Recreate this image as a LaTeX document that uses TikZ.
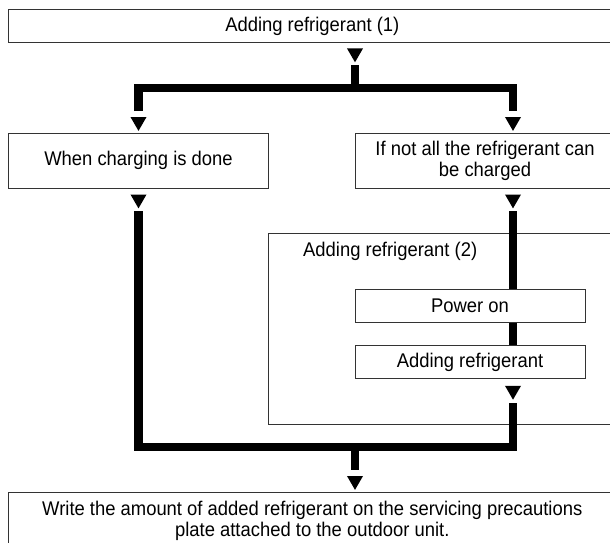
\documentclass[tikz,border=0pt]{standalone}
\usepackage{fontspec}
\setmainfont[FakeStretch=0.93]{Liberation Sans}
\usepackage{tikz}
\usetikzlibrary{shapes.geometric}

\begin{document}
\begin{tikzpicture}[x=1pt, y=-1pt,
  box/.style={rectangle, draw=black!80, line width=0.9pt, inner sep=0pt, align=center, font=\fontsize{19.8}{21}\selectfont},
  tri/.style={regular polygon, regular polygon sides=3, shape border rotate=180, fill=black, draw=none, minimum size=18.5pt, inner sep=0pt, outer sep=0pt, anchor=north},
  flow/.style={line width=8.5pt, line cap=butt, line join=miter}]
\useasboundingbox (0,0) rectangle (610,542);
\clip (0,0) rectangle (610,542);
% boxes
\node[box, minimum width=608pt, minimum height=32.5pt] (add1) at (312.3,26) {Adding refrigerant (1)};
\node[box, minimum width=260pt, minimum height=55.6pt] (done) at (138.5,160.8) {When charging is done};
\node[box, minimum width=260pt, minimum height=55.6pt] (notall) at (485,160.8) {If not all the refrigerant can\\be charged};
\node[box, minimum width=346.5pt, minimum height=191.1pt] (add2) at (441.8,329) {};
\node[anchor=west, inner sep=0pt, font=\fontsize{19.8}{21}\selectfont] (add2lbl) at (303,251) {Adding refrigerant (2)};
\node[box, minimum width=230pt, minimum height=33.2pt, fill=white] (power) at (470,306.2) {Power on};
\node[box, minimum width=230pt, minimum height=33.6pt, fill=white] (charge) at (470,362.1) {Adding refrigerant};
\node[box, minimum width=608pt, minimum height=58pt] (note) at (312.3,521) {Write the amount of added refrigerant on the servicing precautions\\plate attached to the outdoor unit.};
% arrow heads
\node[tri] (t0) at (355,48.4) {};
\node[tri] (tL) at (138.5,117) {};
\node[tri] (tR) at (513,117) {};
\node[tri] (tA) at (138.5,194.5) {};
\node[tri] (tB) at (513,194.5) {};
\node[tri] (tC) at (513,385.8) {};
\node[tri] (tD) at (355,476) {};
\coordinate (split) at (355,88);
\coordinate (merge) at (355,447);
% flow lines
\draw[flow, shorten <=3pt] (t0.south) -- (split);
\draw[flow, shorten <=6pt, shorten >=6pt] (tL.north) |- (split) -| (tR.north);
\draw[flow, shorten <=3pt] (tB.south) -- (tB.south |- power.north);
\draw[flow] (power.south -| tB.south) -- (charge.north -| tB.south);
\draw[flow, shorten <=3pt, shorten >=3pt] (tA.south) |- (merge) -| (tC.south);
\draw[flow, shorten >=6.5pt] (merge) -- (tD.north);
\end{tikzpicture}
\end{document}
